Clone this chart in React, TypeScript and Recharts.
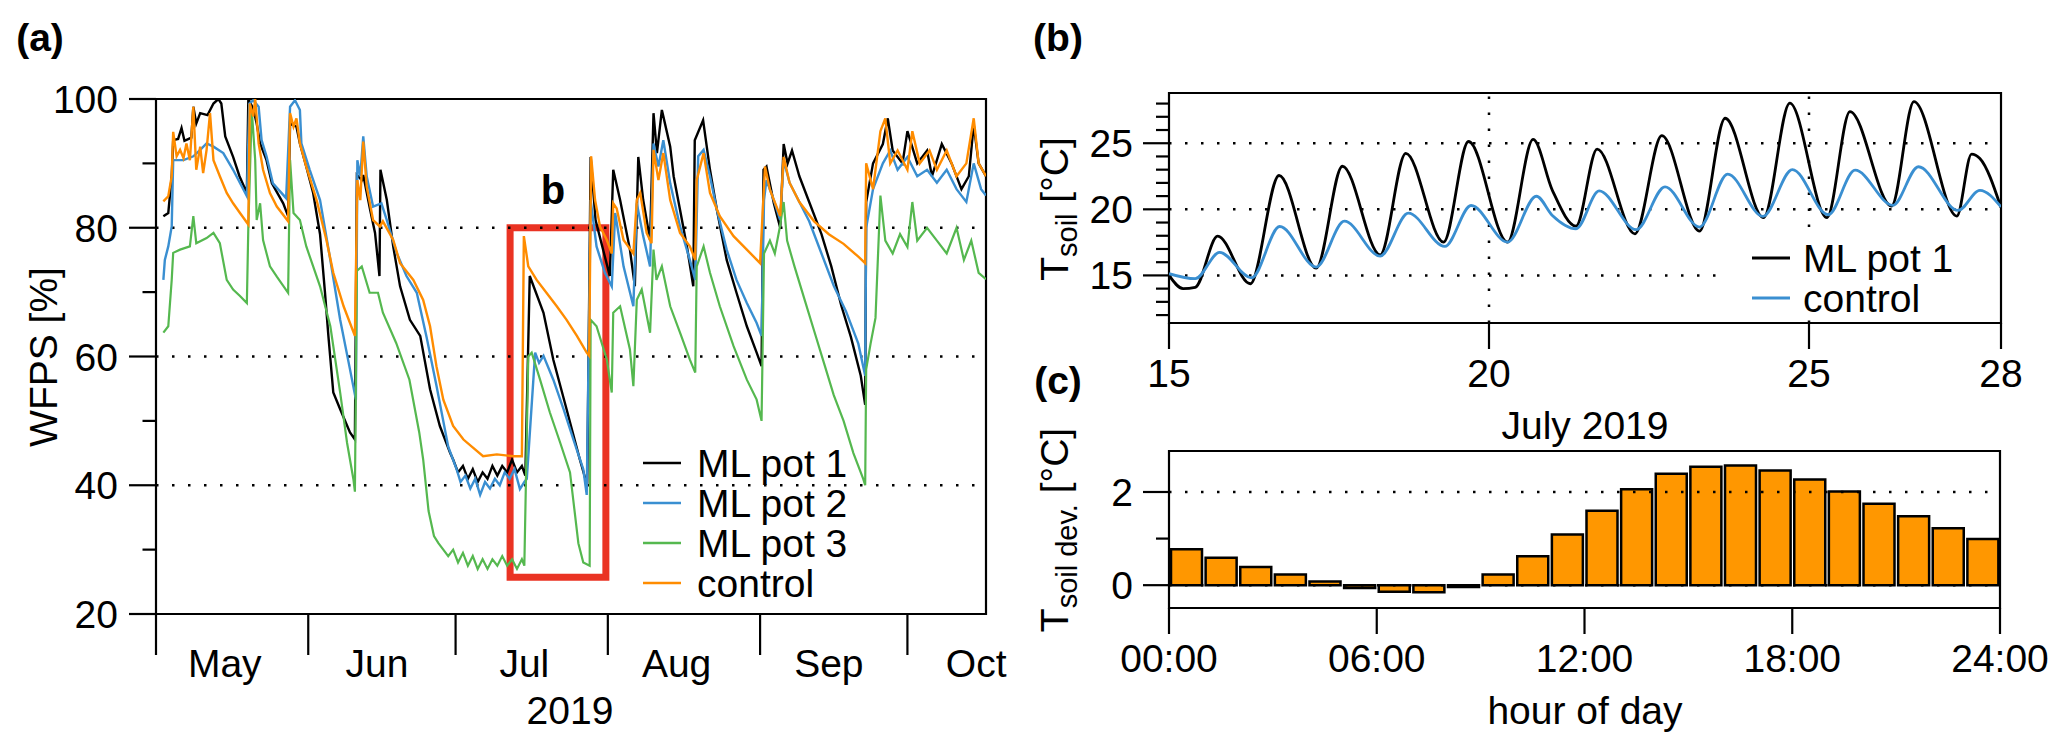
import React from 'react';
import { LineChart, Line, BarChart, Bar, XAxis, YAxis, ReferenceLine, ReferenceArea } from 'recharts';

const FONT = '"Liberation Sans", Arial, Helvetica, sans-serif';
const FS = 39;
const W = 2067;
const H = 746;
const BLUE = '#3a8fd1';
const GREEN = '#55b84f';
const ORANGE = '#ff8c00';
const RED = '#ea3323';
const BAR = '#ff9700';
const DOT = '2.5 13.5';

// (a) WFPS, x = days since 1 May 2019
const monthStarts = [0, 31, 61, 92, 123, 153];
const monthMids = [14, 45, 75, 106, 137, 167];
const monthNames = ['May', 'Jun', 'Jul', 'Aug', 'Sep', 'Oct'];
const wfpsTicks = [20, 30, 40, 50, 60, 70, 80, 90, 100];
const wfpsMajor = [20, 40, 60, 80, 100];

const pot1: [number, number][] = [
  [1.5, 81.8], [2.5, 82.3], [3.2, 88], [3.5, 93.6], [4.5, 93.8], [5.2, 95.5], [5.8, 93.5], [7.2, 94], [7.6, 98.8],
  [8.2, 96.2], [9, 97.8], [10.5, 97.5], [11.7, 99.3], [12.7, 100], [13.3, 99.3], [14.1, 94.2], [15.7, 91], [17, 88],
  [18.5, 85.4], [18.8, 100], [19.8, 98.5], [20.5, 96.2], [21.2, 93.1], [22.5, 90.5], [23.6, 86.9], [25.9, 83.8],
  [26.9, 81.8], [27.3, 96.2], [28.6, 95.7], [29.3, 93.1], [30.6, 89.5], [32, 85.4], [33.4, 79], [34.4, 70],
  [35.1, 63.2], [36.1, 54.4], [37.5, 51.8], [39.5, 48.2], [40.5, 47.1], [40.9, 88.2], [41.9, 87.4], [42.2, 88.2],
  [43.6, 82.8], [44.6, 79.2], [45.5, 72.5], [45.7, 89], [47, 84.3], [48.3, 77.1], [49.7, 70.9], [51.7, 65.7],
  [53.8, 63.2], [55.8, 54.9], [57.8, 49.2], [59.9, 45], [60.5, 44], [61.5, 42], [62.5, 43], [63.5, 41], [64.5, 42.5],
  [65.5, 40.5], [66.5, 42], [67.5, 41], [68.5, 43], [69.5, 41.5], [70.5, 43], [71.5, 42], [72.5, 44], [73.5, 42],
  [74.5, 43], [75.2, 41.5], [76.1, 72.5], [78.9, 66.8], [80.9, 59.5], [83.6, 51.8], [86.3, 44], [87.8, 40],
  [88.5, 91], [89.5, 81.2], [92.4, 72.5], [93.1, 89], [94.5, 84.3], [96.5, 76.6], [97.5, 70.9], [98.2, 91],
  [99.2, 84.3], [100.6, 78.1], [101.3, 97.8], [102, 91.6], [103, 98.3], [103.3, 97.3], [104.7, 92.6], [105.4, 88],
  [106.7, 82.8], [108.1, 77.1], [109.4, 70.9], [109.7, 93.6], [111.4, 96.7], [112.8, 89], [114.2, 82.8],
  [116.2, 75], [118.2, 69.9], [120.3, 64.7], [122.3, 60.6], [123.3, 58.5], [123.7, 89], [124.3, 89.5],
  [125.8, 83.8], [127.1, 80], [127.8, 93], [128.6, 90], [129.5, 92], [131, 88], [133, 84], [135.5, 79],
  [137.5, 74], [139.5, 68], [141.5, 63], [143.5, 57], [144.4, 52.5], [144.6, 84], [146, 90], [148, 93], [149, 97],
  [150, 92], [152, 90], [153, 95], [155, 90], [157, 92], [158, 88], [160, 93], [162, 90], [164, 86], [165.5, 88],
  [166.5, 96], [167.5, 90], [169, 88],
];

const pot2: [number, number][] = [
  [1.5, 71.9], [1.8, 75], [2.5, 77.1], [3.2, 80.2], [3.5, 90.5], [5.6, 90.5], [7.6, 91.1], [9, 92.1], [10.3, 93.1],
  [11.7, 92.6], [13.7, 91.6], [15.7, 89], [18.5, 84.9], [19, 99.3], [19.8, 99.8], [20.9, 98.8], [21.5, 93.6],
  [22.5, 91.1], [23.8, 86.9], [26.5, 84.6], [27.3, 98.8], [28.3, 99.8], [29.3, 98.3], [29.6, 93.1], [31.3, 89],
  [33.4, 84.3], [35.5, 75], [37.5, 65.7], [39.5, 58], [40.7, 53.3], [41, 90.5], [41.6, 88], [42.2, 94.2],
  [42.9, 88], [44.2, 83.3], [45.9, 83.8], [47, 81.2], [49, 76.1], [51, 72.5], [53.1, 69.9], [55.1, 63],
  [57.1, 55.5], [59.5, 46], [61.2, 42.5], [62, 40.5], [63, 41.5], [64, 39.5], [65, 41], [66, 38.5], [67, 40.5],
  [68, 39.5], [69, 41], [70, 40], [71, 42], [72, 41], [73, 42.5], [74.1, 39.4], [75, 40.5], [75.5, 41],
  [77.2, 60.6], [78, 59], [78.9, 60.1], [80.9, 56.4], [83, 51.8], [85, 47.1], [87, 42.5], [87.7, 38.5],
  [88.5, 84.3], [89.7, 77.1], [91.4, 73], [92.8, 70.9], [93.5, 82.3], [95.2, 74], [97.2, 67.8], [97.9, 83.8],
  [99.2, 78.7], [100.6, 74], [101.3, 93.1], [102.3, 89.5], [103.3, 93.6], [104.7, 86.9], [106.7, 80.2],
  [108.7, 75], [109.8, 71.9], [110.4, 91.1], [111.5, 92.1], [112.8, 88], [114.2, 82.8], [116.2, 76.6],
  [118.2, 71.9], [120.3, 68.3], [122.3, 65.2], [123.3, 63.2], [123.8, 84.3], [124.3, 87.4], [125.8, 84.3],
  [127.1, 81.2], [127.8, 90.5], [129, 87], [131, 84], [133, 81], [135.5, 76], [138, 71], [140.5, 67], [143, 62],
  [144.4, 57], [144.6, 80], [146, 86], [148, 90], [149.5, 92], [151, 89], [153, 91], [155, 88], [157, 89],
  [159, 87], [161, 89], [163, 86], [165, 84], [166.5, 90], [168, 86], [169, 85],
];

const pot3: [number, number][] = [
  [1.5, 63.7], [2.5, 64.7], [3.2, 71.9], [3.5, 76.1], [4.9, 76.6], [6.9, 77.1], [7.6, 81.8], [8.2, 77.6],
  [10.3, 78.4], [11.7, 79.2], [13, 77.6], [14.4, 71.9], [15.7, 70.4], [17.1, 69.4], [18.5, 68.3], [18.8, 80.2],
  [19.5, 98.3], [20.2, 90.5], [20.5, 81.2], [21.2, 83.8], [21.8, 78.1], [23.2, 74], [24.6, 72.4], [26.9, 69.9],
  [27.3, 90.5], [28, 82.3], [29.3, 81.2], [30.6, 77.1], [32, 74], [33.4, 70.9], [35.5, 64.7], [37.5, 54.4],
  [38.9, 46.6], [40.2, 40.9], [40.5, 39], [40.9, 73.3], [41.9, 74], [43.5, 69.9], [45.2, 69.9], [46.2, 66.8],
  [48.9, 62.1], [51.6, 56.4], [53.6, 48.2], [54.4, 44], [55.5, 36], [56.6, 32.1], [57.5, 31], [58.5, 30],
  [59.5, 29], [60.5, 30], [61.5, 28], [62.5, 29.5], [63.5, 27.5], [64.5, 29], [65.5, 27], [66.5, 28.5],
  [67.5, 27], [68.5, 28.5], [69.5, 27.5], [70.5, 29], [71.5, 27.5], [72.5, 28.5], [73.5, 27], [74.5, 28.5],
  [75, 27.5], [75.8, 60], [76.5, 60.6], [78.2, 56.4], [80.2, 51.3], [82.3, 46.6], [84.3, 42], [86, 31], [87, 28],
  [88.3, 27.5], [88.5, 65.7], [89.7, 64.7], [91.8, 59.5], [92.8, 54.4], [93.1, 66.8], [94.5, 67.8], [96.5, 61.1],
  [97.2, 55.4], [97.9, 68.8], [98.9, 70.4], [100.6, 63.7], [101.3, 76.6], [101.9, 71.9], [103, 74], [104.7, 67.8],
  [106.7, 63.7], [108.7, 59.5], [109.8, 57.5], [110.1, 74], [111.5, 77.1], [112.8, 73], [114.8, 67.8],
  [117.6, 61.6], [120.3, 56.4], [122.3, 53.3], [123.3, 50], [123.8, 76], [125, 78], [126, 76], [127, 80],
  [127.8, 84], [128.5, 78], [130, 74], [132, 69], [134, 64], [136, 59], [138, 54], [140, 50], [142, 45], [144, 41],
  [144.4, 40], [144.6, 58], [145.5, 62], [146.5, 66], [147.5, 85], [148.5, 78], [150, 76], [151.5, 79], [153, 77],
  [154, 84], [155, 78], [157, 80], [159, 78], [161, 76], [163, 80], [164.5, 75], [166, 78], [167.5, 73], [169, 72],
];

const control: [number, number][] = [
  [1.5, 84.1], [2.5, 84.9], [3.2, 88], [3.5, 94.9], [4.2, 91.1], [4.9, 92.1], [5.6, 90.8], [6.2, 93.1], [6.9, 90.5],
  [7.6, 98.8], [8.2, 89], [9, 92.6], [9.6, 88.5], [10.3, 92.1], [11, 97.8], [11.7, 90.5], [13, 88], [14.4, 85.4],
  [15.7, 83.8], [17.1, 82.3], [18.8, 80.5], [19.1, 99.3], [19.8, 97.3], [20.2, 100], [20.9, 93.1], [21.8, 89],
  [23.2, 85.4], [24.6, 83.3], [26.9, 81], [27.3, 97.8], [28, 95.7], [28.6, 97], [29.3, 93.1], [30.6, 89.5],
  [32.7, 84.3], [34.7, 78.1], [36.1, 73], [38.2, 67.8], [40.5, 63.2], [41, 87.4], [41.6, 84.3], [42.2, 93.4],
  [42.9, 86.4], [44.2, 81.2], [45.6, 80.2], [46.2, 81], [48.3, 78.1], [49.7, 74.5], [52.4, 71.9], [54.4, 68.8],
  [55.8, 64.7], [57.1, 58.5], [58.5, 53.3], [60.5, 49.2], [62.6, 47.1], [64.6, 45.8], [66.6, 44.5], [69.4, 44.8],
  [72.8, 44.5], [74.5, 44.5], [74.9, 78.7], [75.8, 74], [77.5, 71.9], [79.5, 69.9], [81.6, 67.8], [83.6, 65.7],
  [85.7, 63.2], [87.7, 60.6], [88.2, 60.1], [88.6, 91.1], [89.4, 84.3], [90.4, 80.2], [91.8, 78.1], [92.8, 76],
  [93.1, 83.8], [93.8, 83], [95.2, 78.1], [97.2, 76], [97.9, 84.3], [98.6, 85.4], [99.9, 79.2], [100.9, 77.6],
  [101.3, 92.1], [102.3, 87.4], [103.3, 91.6], [104.7, 84.3], [106.7, 79.2], [108.7, 77.1], [109.8, 75],
  [110.1, 87.4], [111.5, 91.6], [112.8, 85.4], [114.8, 81.8], [117.6, 78.7], [120.3, 76.6], [123, 74.5],
  [124, 89.5], [125, 85.9], [127.1, 81.8], [127.8, 91], [129, 87], [131, 84], [134, 81], [137, 79], [140, 77.5],
  [143, 75.5], [144.4, 74.5], [144.6, 90], [146, 86], [147.5, 95], [148.5, 97], [149.5, 90], [151, 92], [153, 89],
  [154, 95], [155.5, 90], [157.5, 92], [159, 89], [161, 92], [163, 88], [165, 90], [166.5, 97], [167.5, 90],
  [169, 88],
];

// (b) soil temperature, x = day of July 2019
const julyTicks = [15, 20, 25, 28];
const soilTicks = [12, 13, 14, 15, 16, 17, 18, 19, 20, 21, 22, 23, 24, 25, 26, 27, 28];
const soilMajor = [15, 20, 25];

const soilPot1: [number, number][] = [
  [15, 15], [15.22, 14], [15.41, 14.1], [15.76, 17.97], [16.27, 14.37], [16.72, 22.56], [17.3, 15.55],
  [17.71, 23.26], [18.3, 16.56], [18.7, 24.24], [19.29, 17.52], [19.68, 25.13], [20.29, 17.52], [20.69, 25.29],
  [20.99, 21.44], [21.36, 18.73], [21.69, 24.56], [22.28, 18.15], [22.7, 25.57], [23.29, 18.35], [23.69, 26.89],
  [24.29, 19.37], [24.7, 28.03], [25.28, 19.37], [25.64, 27.39], [26.29, 20.25], [26.64, 28.15], [27.31, 19.49],
  [27.54, 24.18], [27.67, 23.85], [28, 20.13],
];

const soilControl: [number, number][] = [
  [15, 15.13], [15.41, 14.75], [15.79, 16.74], [16.29, 14.82], [16.73, 18.7], [17.3, 15.63], [17.74, 19.1],
  [18.3, 16.46], [18.74, 19.71], [19.31, 17.19], [19.72, 20.29], [20.29, 17.52], [20.74, 20.99], [20.99, 19.54],
  [21.36, 18.53], [21.72, 21.39], [22.3, 18.46], [22.75, 21.7], [23.29, 18.66], [23.73, 22.66], [24.28, 19.47],
  [24.74, 23.01], [25.3, 19.59], [25.72, 22.96], [26.31, 20.3], [26.71, 23.22], [27.33, 19.92], [27.67, 21.44],
  [28, 20.18],
];

// (c) mean deviation by hour of day
const hourMid = [0.5, 1.5, 2.5, 3.5, 4.5, 5.5, 6.5, 7.5, 8.5, 9.5, 10.5, 11.5, 12.5, 13.5, 14.5, 15.5, 16.5, 17.5,
  18.5, 19.5, 20.5, 21.5, 22.5, 23.5];
const tempDev = [0.77, 0.59, 0.39, 0.23, 0.08, -0.06, -0.14, -0.15, -0.04, 0.23, 0.62, 1.09, 1.6, 2.06, 2.39, 2.54,
  2.57, 2.46, 2.27, 2.01, 1.75, 1.48, 1.22, 0.99];
const hourTicks = [0, 6, 12, 18, 24];
const devTicks = [0, 1, 2];
const devMajor = [0, 2];

const toPts = (arr: [number, number][]) => arr.map(([d, v]) => ({ d, v }));
const devData = hourMid.map((h, i) => ({ h, v: tempDev[i] }));

const leftTick = (majors: number[], len: number, gap: number) => (p: any) => {
  const { x, y, payload } = p;
  const v = payload.value;
  const major = majors.includes(v);
  return (
    <g key={`y-${v}`}>
      <line x1={x - (major ? len : len / 2)} y1={y} x2={x} y2={y} stroke="#000" strokeWidth={2.2} />
      {major && (
        <text x={x - gap} y={y + 14} textAnchor="end" fontSize={FS} fontFamily={FONT} fill="#000">
          {v}
        </text>
      )}
    </g>
  );
};

const bottomTick = (len: number, drawLine: (v: number) => boolean, label: (v: number) => string | null, dy: number) =>
  (p: any) => {
    const { x, y, payload } = p;
    const v = payload.value;
    const txt = label(v);
    return (
      <g key={`x-${v}`}>
        {drawLine(v) && <line x1={x} y1={y} x2={x} y2={y + len} stroke="#000" strokeWidth={2.2} />}
        {txt !== null && (
          <text x={x} y={y + dy} textAnchor="middle" fontSize={FS} fontFamily={FONT} fill="#000">
            {txt}
          </text>
        )}
      </g>
    );
  };

const monthAxisTicks = [...monthStarts, ...monthMids].sort((a, b) => a - b);

const legendA = [
  { name: 'ML pot 1', color: '#000' },
  { name: 'ML pot 2', color: BLUE },
  { name: 'ML pot 3', color: GREEN },
  { name: 'control', color: ORANGE },
];
const legendB = [
  { name: 'ML pot 1', color: '#000' },
  { name: 'control', color: BLUE },
];

const layer: React.CSSProperties = { position: 'absolute', left: 0, top: 0 };

export default function App() {
  return (
    <div style={{ position: 'absolute', left: 0, top: 0, width: W, height: H, background: '#fff', overflow: 'hidden' }}>
      {/* (a) */}
      <div style={layer}>
        <LineChart width={W} height={H} margin={{ top: 99, right: 1081, bottom: 0, left: 0 }}>
          <XAxis
            dataKey="d"
            type="number"
            domain={[0, 169]}
            allowDataOverflow
            ticks={monthAxisTicks}
            interval={0}
            height={132}
            axisLine={false}
            tickLine={false}
            tickSize={0}
            tickMargin={0}
            tick={bottomTick(41, (v) => monthStarts.includes(v), (v) => {
              const i = monthMids.indexOf(v);
              return i >= 0 ? monthNames[i] : null;
            }, 63)}
          />
          <YAxis
            type="number"
            domain={[20, 100]}
            allowDataOverflow
            ticks={wfpsTicks}
            interval={0}
            width={156}
            axisLine={false}
            tickLine={false}
            tickSize={0}
            tickMargin={0}
            tick={leftTick(wfpsMajor, 27, 38)}
          />
          {[40, 60, 80].map((g) => (
            <ReferenceLine key={g} y={g} stroke="#000" strokeWidth={2.5} strokeDasharray={DOT} />
          ))}
          <Line data={toPts(pot1)} dataKey="v" stroke="#000" strokeWidth={2.4} dot={false} isAnimationActive={false} />
          <Line data={toPts(pot2)} dataKey="v" stroke={BLUE} strokeWidth={2.4} dot={false} isAnimationActive={false} />
          <Line data={toPts(pot3)} dataKey="v" stroke={GREEN} strokeWidth={2.2} dot={false} isAnimationActive={false} />
          <Line data={toPts(control)} dataKey="v" stroke={ORANGE} strokeWidth={2.4} dot={false} isAnimationActive={false} />
          <ReferenceArea x1={72.1} x2={91.6} y1={25.7} y2={80} fill="none" stroke={RED} strokeWidth={7} />
          <ReferenceArea x1={0} x2={169} y1={20} y2={100} fill="none" stroke="#000" strokeWidth={2.2} />
        </LineChart>
      </div>

      {/* (b) */}
      <div style={layer}>
        <LineChart width={W} height={H} margin={{ top: 93, right: 66, bottom: 0, left: 0 }}>
          <XAxis
            dataKey="d"
            type="number"
            domain={[15, 28]}
            allowDataOverflow
            ticks={julyTicks}
            interval={0}
            height={423}
            axisLine={false}
            tickLine={false}
            tickSize={0}
            tickMargin={0}
            tick={bottomTick(26, () => true, (v) => String(v), 64)}
          />
          <YAxis
            type="number"
            domain={[11.4, 28.8]}
            allowDataOverflow
            ticks={soilTicks}
            interval={0}
            width={1169}
            axisLine={false}
            tickLine={false}
            tickSize={0}
            tickMargin={0}
            tick={leftTick(soilMajor, 26, 36)}
          />
          {soilMajor.map((g) => (
            <ReferenceLine key={g} y={g} stroke="#000" strokeWidth={2.5} strokeDasharray={DOT} />
          ))}
          {[20, 25].map((g) => (
            <ReferenceLine key={`v${g}`} x={g} stroke="#000" strokeWidth={2.5} strokeDasharray={DOT} />
          ))}
          <Line data={toPts(soilPot1)} dataKey="v" type="monotone" stroke="#000" strokeWidth={2.8} dot={false} isAnimationActive={false} />
          <Line data={toPts(soilControl)} dataKey="v" type="monotone" stroke={BLUE} strokeWidth={2.8} dot={false} isAnimationActive={false} />
          <ReferenceArea x1={15} x2={28} y1={11.4} y2={28.8} fill="none" stroke="#000" strokeWidth={2.2} />
        </LineChart>
      </div>

      {/* (c) */}
      <div style={layer}>
        <BarChart width={W} height={H} data={devData} margin={{ top: 451, right: 67, bottom: 0, left: 0 }}>
          <XAxis
            dataKey="h"
            type="number"
            domain={[0, 24]}
            allowDataOverflow
            ticks={hourTicks}
            interval={0}
            height={138}
            axisLine={false}
            tickLine={false}
            tickSize={0}
            tickMargin={0}
            tick={bottomTick(26, () => true, (v) => `${String(v).padStart(2, '0')}:00`, 64)}
          />
          <YAxis
            type="number"
            domain={[-0.49, 2.88]}
            allowDataOverflow
            ticks={devTicks}
            interval={0}
            width={1169}
            axisLine={false}
            tickLine={false}
            tickSize={0}
            tickMargin={0}
            tick={leftTick(devMajor, 26, 36)}
          />
          <Bar dataKey="v" fill={BAR} stroke="#000" strokeWidth={2.5} barSize={31} isAnimationActive={false} />
          {devMajor.map((g) => (
            <ReferenceLine key={g} y={g} stroke="#000" strokeWidth={2.5} strokeDasharray={DOT} />
          ))}
          <ReferenceArea x1={0} x2={24} y1={-0.49} y2={2.88} fill="none" stroke="#000" strokeWidth={2.2} />
        </BarChart>
      </div>

      {/* labels and legends */}
      <svg width={W} height={H} style={{ ...layer, pointerEvents: 'none' }} fontFamily={FONT} fill="#000">
        <text x={40} y={51} fontSize={FS} fontWeight="bold" textAnchor="middle">(a)</text>
        <text x={1058} y={51} fontSize={FS} fontWeight="bold" textAnchor="middle">(b)</text>
        <text x={1058} y={394} fontSize={FS} fontWeight="bold" textAnchor="middle">(c)</text>

        <text transform="translate(57,357) rotate(-90)" fontSize={FS} textAnchor="middle">WFPS [%]</text>
        <text x={553} y={204} fontSize={40} fontWeight="bold" textAnchor="middle">b</text>
        <text x={570} y={724} fontSize={FS} textAnchor="middle">2019</text>
        {legendA.map((it, i) => (
          <g key={it.name}>
            <line x1={643} x2={681} y1={463 + i * 40} y2={463 + i * 40} stroke={it.color} strokeWidth={2.4} />
            <text x={697} y={477 + i * 40} fontSize={FS}>{it.name}</text>
          </g>
        ))}

        <text transform="translate(1068,209) rotate(-90)" fontSize={FS} textAnchor="middle">
          T<tspan dy={9} fontSize={29}>soil</tspan>
          <tspan dy={-9}> [°C]</tspan>
        </text>
        <text x={1585} y={439} fontSize={FS} textAnchor="middle">July 2019</text>
        <rect x={1728} y={228} width={268} height={92} fill="#fff" />
        {legendB.map((it, i) => (
          <g key={it.name}>
            <line x1={1752} x2={1790} y1={258 + i * 40} y2={258 + i * 40} stroke={it.color} strokeWidth={2.8} />
            <text x={1803} y={272 + i * 40} fontSize={FS}>{it.name}</text>
          </g>
        ))}

        <text transform="translate(1068,530) rotate(-90)" fontSize={FS} textAnchor="middle">
          T<tspan dy={9} fontSize={29}>soil dev.</tspan>
          <tspan dy={-9}> [°C]</tspan>
        </text>
        <text x={1585} y={724} fontSize={FS} textAnchor="middle">hour of day</text>
      </svg>
    </div>
  );
}
